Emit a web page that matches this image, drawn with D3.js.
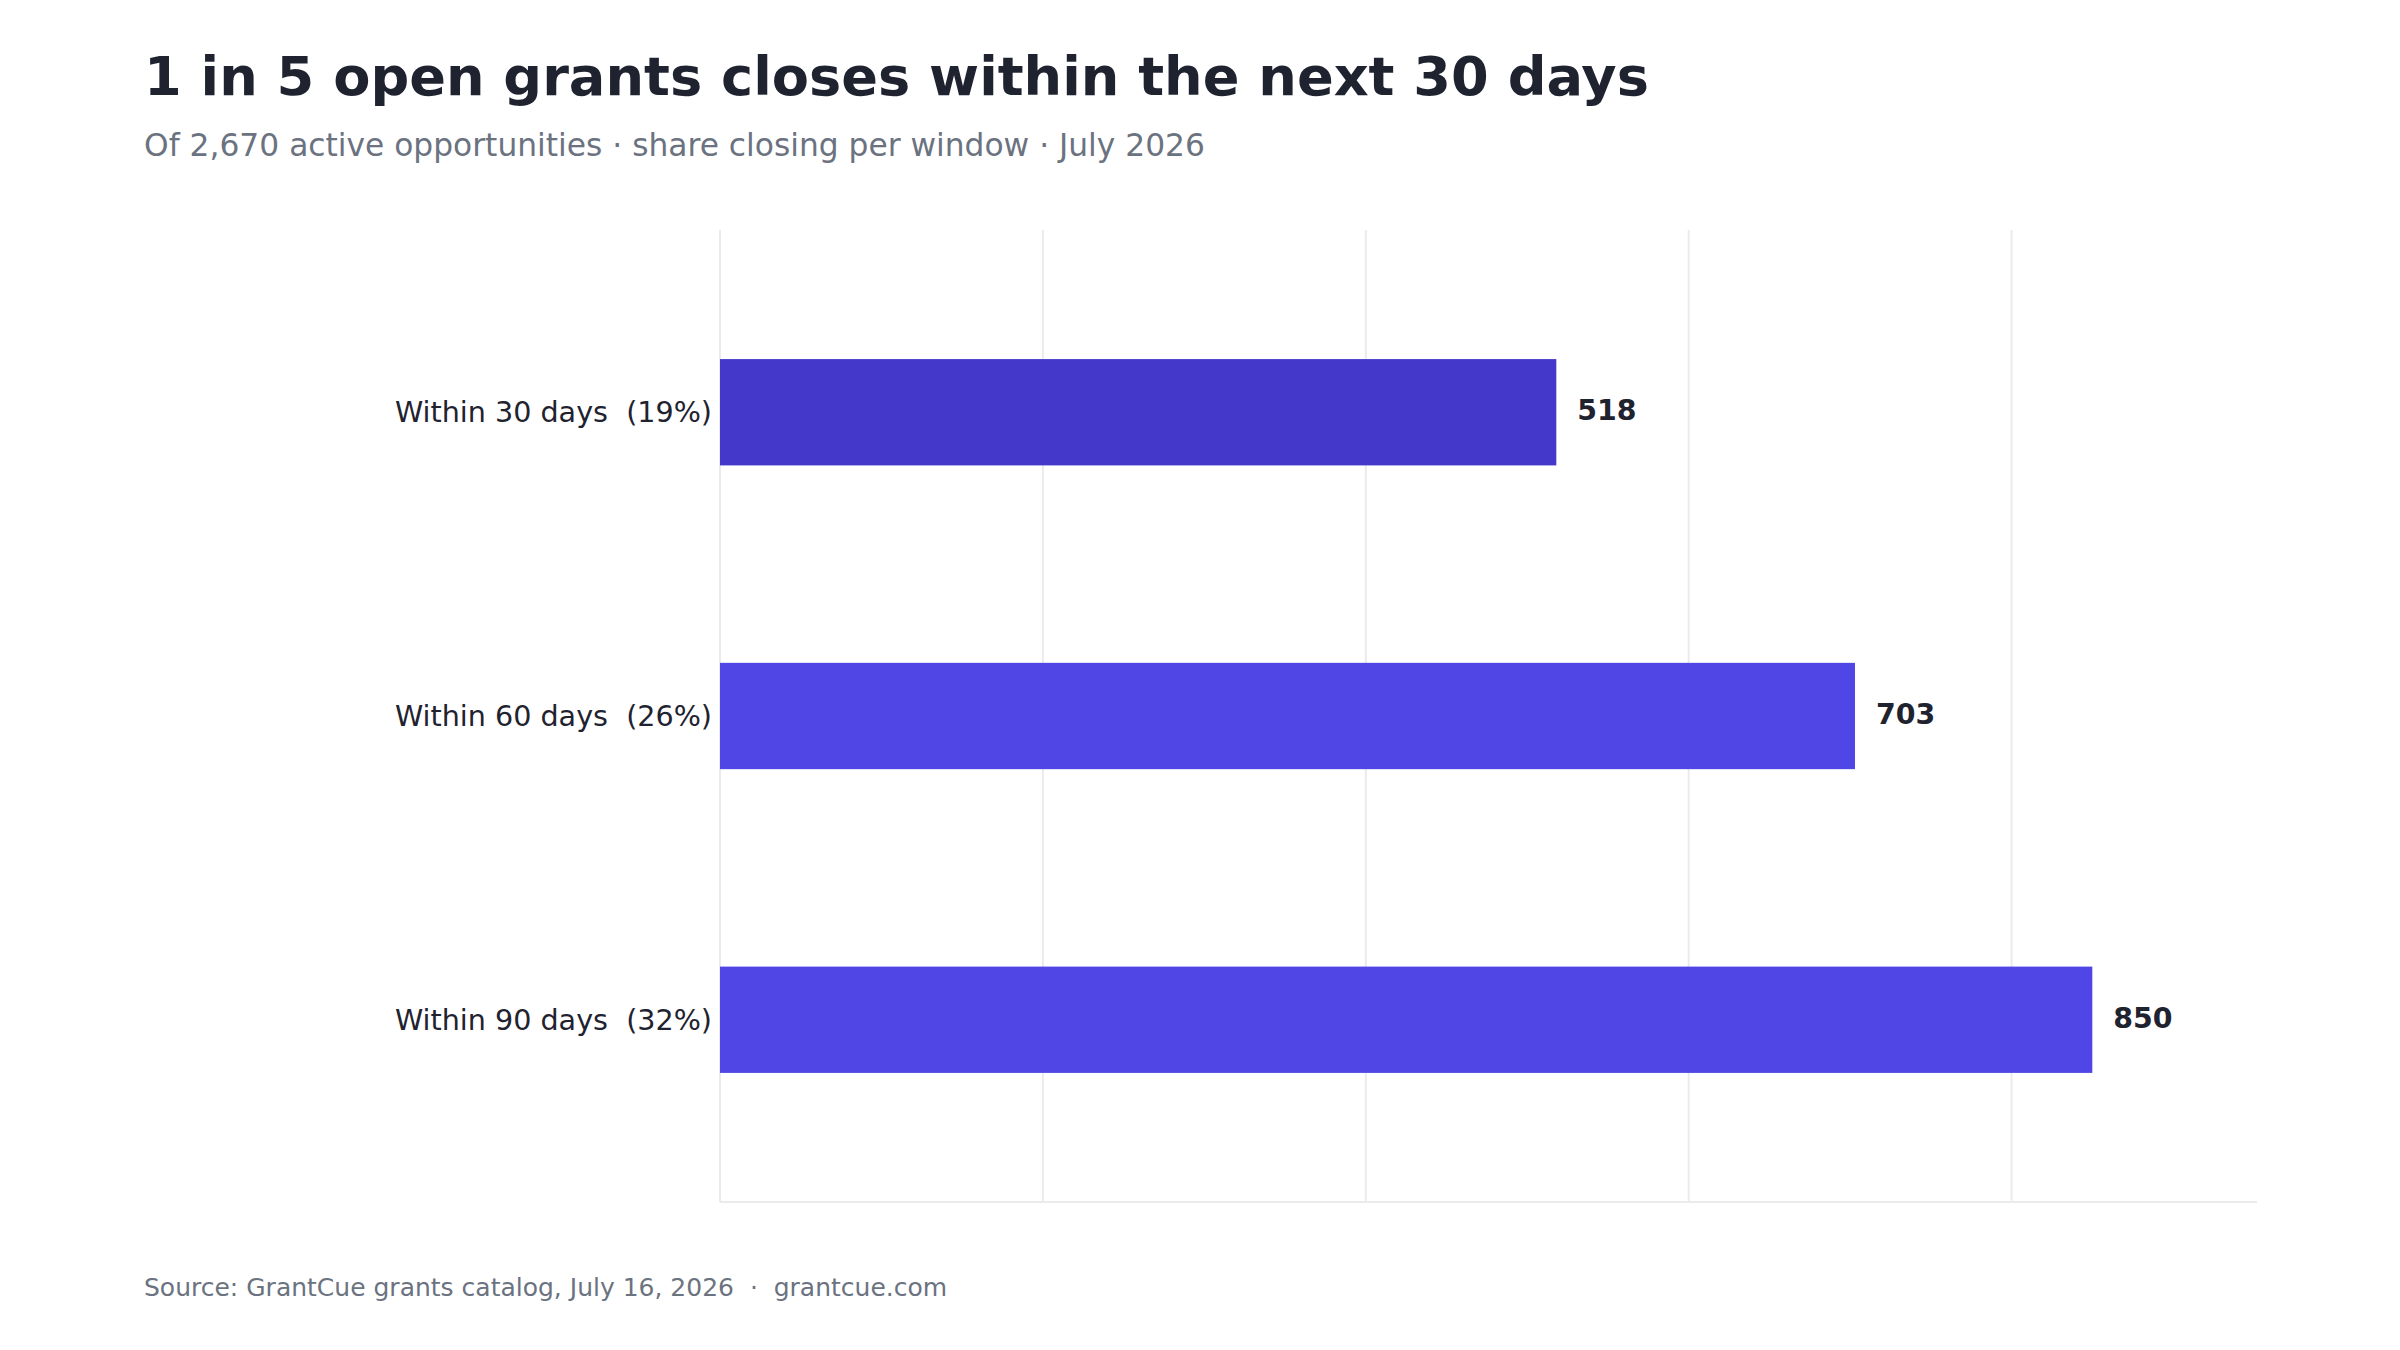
<!DOCTYPE html>
<html>
<head>
<meta charset="utf-8">
<script src="https://cdn.jsdelivr.net/npm/d3@7"></script>
<style>
  html, body { margin: 0; padding: 0; background: #fff; }
  svg { display: block; font-family: "DejaVu Sans", sans-serif; }
</style>
</head>
<body>
<svg id="chart"></svg>
<script>
// Data
const categories = ["Within 30 days", "Within 60 days", "Within 90 days"];
const shares = ["19%", "26%", "32%"];
const counts = [518, 703, 850];
const gridTicks = [0, 200, 400, 600, 800];

const width = 2400;
const height = 1350;
const margin = { top: 230, right: 143, bottom: 148, left: 720 };

const svg = d3.select("#chart")
    .attr("width", width)
    .attr("height", height);

const x = d3.scaleLinear()
    .domain([0, d3.max(counts) * 1.12])
    .range([margin.left, width - margin.right]);

const y = d3.scaleBand()
    .domain(categories)
    .range([margin.top, height - margin.bottom])
    .paddingInner(0.65)
    .paddingOuter(0.425);

// gridlines
svg.append("g")
    .selectAll("line")
    .data(gridTicks)
    .join("line")
    .attr("x1", d => x(d))
    .attr("x2", d => x(d))
    .attr("y1", margin.top)
    .attr("y2", height - margin.bottom)
    .attr("stroke", "#ebebeb")
    .attr("stroke-width", 2);

// bottom axis line
svg.append("line")
    .attr("x1", x(0))
    .attr("x2", x.range()[1])
    .attr("y1", height - margin.bottom)
    .attr("y2", height - margin.bottom)
    .attr("stroke", "#ebebeb")
    .attr("stroke-width", 2);

// bars
svg.append("g")
    .selectAll("rect")
    .data(counts)
    .join("rect")
    .attr("x", x(0))
    .attr("y", (d, i) => y(categories[i]))
    .attr("width", d => x(d) - x(0))
    .attr("height", y.bandwidth())
    .attr("fill", (d, i) => i === 0 ? "#4338ca" : "#4f46e5");

// value labels
svg.append("g")
    .selectAll("text")
    .data(counts)
    .join("text")
    .attr("x", d => x(d) + 21)
    .attr("y", (d, i) => y(categories[i]) + y.bandwidth() / 2)
    .attr("dy", "0.28em")
    .attr("fill", "#1f2330")
    .style("font-size", "28.4px")
    .style("font-weight", "bold")
    .text(d => d3.format(",")(d));

// category labels
svg.append("g")
    .selectAll("text")
    .data(categories)
    .join("text")
    .attr("x", margin.left - 8)
    .attr("y", d => y(d) + y.bandwidth() / 2)
    .attr("dy", "0.35em")
    .attr("text-anchor", "end")
    .attr("fill", "#1f2330")
    .style("font-size", "28.6px")
    .style("white-space", "pre")
    .text((d, i) => `${d}  (${shares[i]})`);

// title, subtitle, source
svg.append("text")
    .attr("x", 144)
    .attr("y", 95)
    .attr("fill", "#1f2330")
    .style("font-size", "54.2px")
    .style("font-weight", "bold")
    .text("1 in 5 open grants closes within the next 30 days");

svg.append("text")
    .attr("x", 144)
    .attr("y", 156)
    .attr("fill", "#6b7280")
    .style("font-size", "31.3px")
    .text("Of 2,670 active opportunities · share closing per window · July 2026");

svg.append("text")
    .attr("x", 144)
    .attr("y", 1296)
    .attr("fill", "#6b7280")
    .style("font-size", "25px")
    .style("white-space", "pre")
    .text("Source: GrantCue grants catalog, July 16, 2026  ·  grantcue.com");
</script>
</body>
</html>
